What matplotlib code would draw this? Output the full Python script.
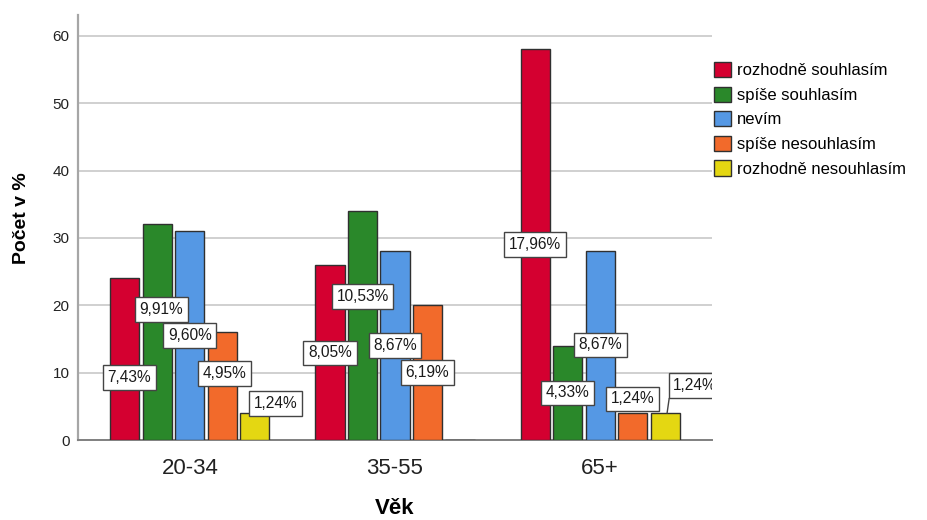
import numpy as np
import matplotlib
matplotlib.use("Agg")
import matplotlib.pyplot as plt
from matplotlib.patches import Patch

plt.rcParams['font.family'] = ['Liberation Sans', 'DejaVu Sans']

# Age groups and answer categories
age_groups = ["20-34", "35-55", "65+"]
answers = ["rozhodně souhlasím", "spíše souhlasím", "nevím",
           "spíše nesouhlasím", "rozhodně nesouhlasím"]

# Counts per answer (rows) for each age group (columns)
strongly_agree = [24, 26, 58]
rather_agree = [32, 34, 14]
dont_know = [31, 28, 28]
rather_disagree = [16, 20, 4]
strongly_disagree = [4, 0, 4]
counts = [strongly_agree, rather_agree, dont_know, rather_disagree, strongly_disagree]

colors = ["#d40030", "#2a882a", "#5598e4", "#f26a2b", "#e4d712"]

# Where each percentage box sits (y centre in axis units, x shift in group units)
label_y = [[9.28, 12.92, 29.04],
           [19.38, 21.31, 6.98],
           [15.52, 14.04, 14.11],
           [9.88, 10.03, 6.09],
           [5.42, None, 8.09]]
label_dx = [[0.02, 0.0, 0.0],
            [0.02, 0.0, 0.0],
            [0.0, 0.0, 0.0],
            [0.012, 0.0, 0.0],
            [0.10, 0.0, 0.146]]

total = sum(sum(c) for c in counts)

fig = plt.figure(figsize=(9.28, 5.2), dpi=100)
ax = fig.add_axes([78 / 928, 80 / 520, (712 - 78) / 928, (440 - 15) / 520])

slot = 0.1585
width = 0.1415
x = np.arange(len(age_groups))

for k, (vals, col) in enumerate(zip(counts, colors)):
    xs = x + (k - 2) * slot
    ax.bar(xs, vals, width=width, color=col, edgecolor="#303030",
           linewidth=1.0, zorder=3)
    for i, v in enumerate(vals):
        if v == 0:
            continue
        pct = f"{v / total * 100:.2f}".replace(".", ",") + "%"
        ly = label_y[k][i]
        lx = xs[i] + label_dx[k][i]
        t = ax.text(lx, ly, pct, ha="center", va="center", fontsize=11.2,
                    color="#1a1a1a", zorder=6,
                    bbox=dict(boxstyle="square,pad=0.3", facecolor="white",
                              edgecolor="#444444", linewidth=1.0))
        if label_dx[k][i] > 0.12:
            # the shifted box runs into the plot edge and is cut there
            t.set_clip_on(True)
            t.get_bbox_patch().set_clip_path(ax.patch)
            t.get_bbox_patch().set_clip_on(True)
            # leader line from the bar top to its shifted label
            ax.plot([xs[i] + 0.01, xs[i] + 0.02], [v, ly - 1.95],
                    color="#444444", linewidth=1.0, zorder=5)

ax.set_xlim(-0.546, 2.546)
ax.set_ylim(0, 63.1)
ax.set_yticks([0, 10, 20, 30, 40, 50, 60])
ax.set_xticks(x)
ax.set_xticklabels(age_groups, fontsize=16, color="#222222")
ax.tick_params(axis="y", length=0, pad=6, labelsize=11, labelcolor="#222222")
ax.tick_params(axis="x", length=0, pad=13)

ax.yaxis.grid(True, color="#c8c8c8", linewidth=1.2, zorder=0)
ax.set_axisbelow(True)
for s in ("top", "right"):
    ax.spines[s].set_visible(False)
ax.spines["left"].set_color("#a6a6a6")
ax.spines["left"].set_linewidth(1.6)
ax.spines["bottom"].set_color("#808080")
ax.spines["bottom"].set_linewidth(1.4)

ax.set_ylabel("Počet v %", fontsize=14, fontweight="bold")
ax.yaxis.set_label_coords(-0.076, 0.522)
ax.set_xlabel("Věk", fontsize=16, fontweight="bold", labelpad=14)

handles = [Patch(facecolor=c, edgecolor="#303030", linewidth=1.0) for c in colors]
fig.legend(handles, answers, loc="upper left",
           bbox_to_anchor=(714 / 928, 1 - 62 / 520), frameon=False,
           fontsize=12, handlelength=1.02, handleheight=1.02,
           handletextpad=0.35, labelspacing=0.5, borderpad=0, borderaxespad=0)

fig.savefig("out.png", dpi=100)
